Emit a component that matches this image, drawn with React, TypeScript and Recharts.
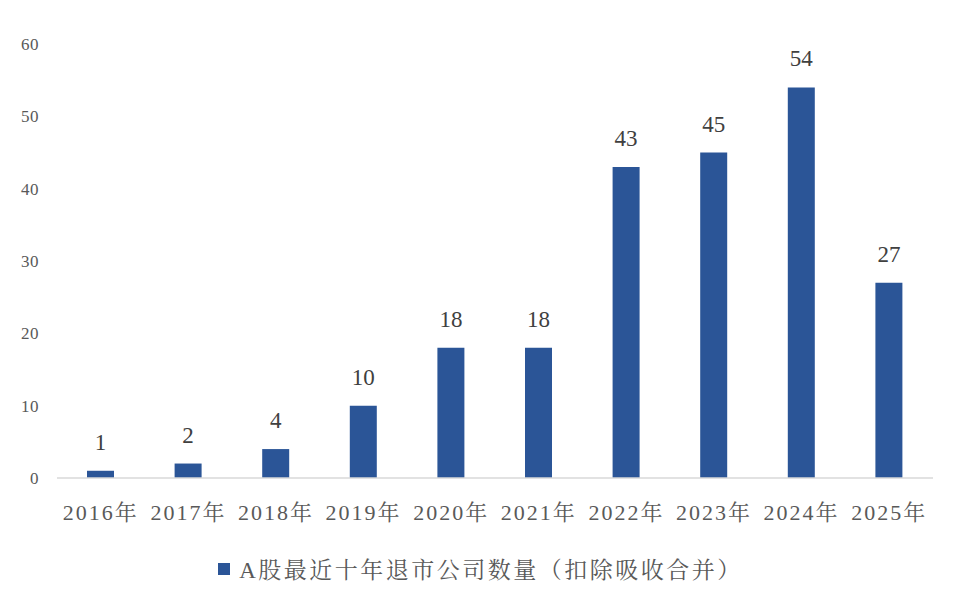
import { BarChart, Bar, XAxis, YAxis, Legend, LabelList } from 'recharts';

const years = ['2016年', '2017年', '2018年', '2019年', '2020年', '2021年', '2022年', '2023年', '2024年', '2025年'];
const delisted = [1, 2, 4, 10, 18, 18, 43, 45, 54, 27];
const yTicks = [0, 10, 20, 30, 40, 50, 60];

const SERIES_NAME = 'A股最近十年退市公司数量（扣除吸收合并）';
const BAR_COLOR = '#2B5597';
const FONT = "'Liberation Serif', 'Noto Serif CJK SC', 'Noto Sans CJK SC', serif";

const data = years.map((year, i) => ({ year, value: delisted[i] }));

const LegendContent = () => (
  <div
    style={{
      display: 'flex',
      alignItems: 'center',
      justifyContent: 'center',
      fontFamily: FONT,
      fontSize: 23,
      letterSpacing: 2.5,
      color: '#595959',
      paddingRight: 8,
    }}
  >
    <span style={{ width: 12, height: 12, background: BAR_COLOR, marginRight: 9, display: 'inline-block' }} />
    <span>{SERIES_NAME}</span>
  </div>
);

const App = () => {
  return (
    <div style={{ position: 'absolute', left: 0, top: 0, background: '#fff' }}>
      <BarChart
        width={969}
        height={589}
        data={data}
        margin={{ top: 44, right: 36, left: 0, bottom: 48 }}
        barSize={27}
      >
        <XAxis
          dataKey="year"
          axisLine={{ stroke: '#d9d9d9', strokeWidth: 1.5 }}
          tickLine={false}
          tickMargin={20}
          tick={{ fill: '#595959', fontSize: 22, fontFamily: FONT, letterSpacing: 2 }}
          interval={0}
        />
        <YAxis
          width={57}
          domain={[0, 60]}
          ticks={yTicks}
          axisLine={false}
          tickLine={false}
          tickMargin={12}
          tick={{ fill: '#595959', fontSize: 17, fontFamily: FONT, letterSpacing: 0.5 }}
        />
        <Legend
          verticalAlign="bottom"
          content={<LegendContent />}
          wrapperStyle={{ left: 0, width: 969, bottom: 4 }}
        />
        <Bar dataKey="value" name={SERIES_NAME} fill={BAR_COLOR} isAnimationActive={false}>
          <LabelList
            dataKey="value"
            position="top"
            offset={21}
            style={{ fill: '#404040', fontSize: 23, fontFamily: FONT }}
          />
        </Bar>
      </BarChart>
    </div>
  );
};

export default App;
